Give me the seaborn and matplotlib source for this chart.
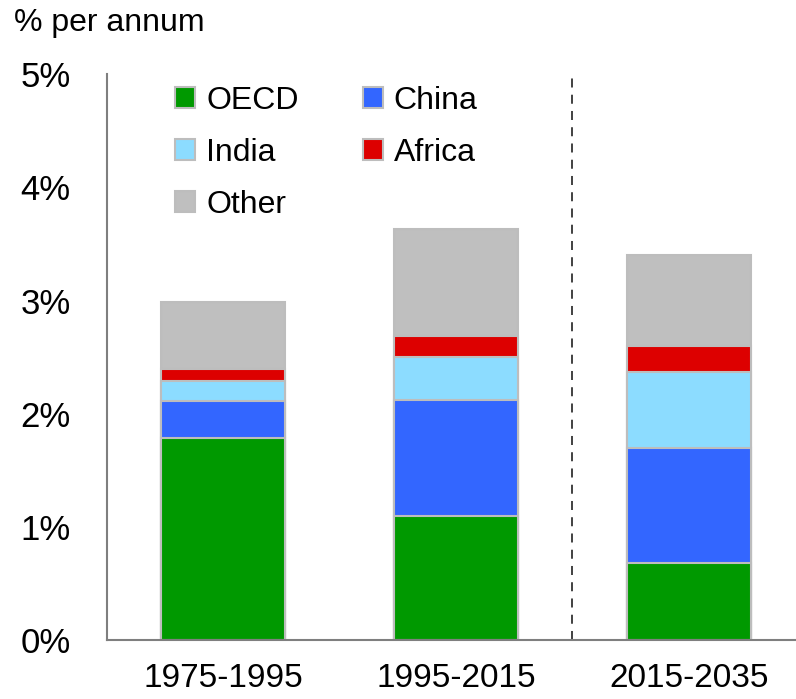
import matplotlib
matplotlib.use("Agg")
import matplotlib.pyplot as plt
import matplotlib.patches as mpatches
import seaborn as sns
import pandas as pd
import numpy as np

periods = ["1975-1995", "1995-2015", "2015-2035"]
regions = ["OECD", "China", "India", "Africa", "Other"]
oecd = [1.79, 1.10, 0.68]
china = [0.32, 1.02, 1.02]
india = [0.18, 0.38, 0.67]
africa = [0.11, 0.19, 0.23]
other = [0.59, 0.94, 0.80]
colors = {"OECD": "#009900", "China": "#3366FF", "India": "#8CDCFF",
          "Africa": "#DD0000", "Other": "#BFBFBF"}

sns.set_theme(style="white")
fam = ["Liberation Sans Narrow", "Liberation Sans", "DejaVu Sans"]
plt.rcParams["font.family"] = fam
plt.rcParams["text.color"] = "black"
plt.rcParams["xtick.color"] = "black"
plt.rcParams["ytick.color"] = "black"

fig = plt.figure(figsize=(7.96, 6.99), dpi=100)
ax = fig.add_axes([0.134, 0.084, 0.866, 0.81])

vals = {"OECD": oecd, "China": china, "India": india, "Africa": africa, "Other": other}
cum = np.zeros(3)
cums = {}
for r in regions:
    cum = cum + np.array(vals[r])
    cums[r] = cum.copy()

for r in reversed(regions):
    df = pd.DataFrame({"period": periods, "value": cums[r]})
    sns.barplot(data=df, x="period", y="value", order=periods, color=colors[r],
                saturation=1, width=0.53, edgecolor="#BDBDBD", linewidth=1.5, ax=ax)

ax.axvline(1.5, color="#333333", linestyle=(0, (5, 4)), linewidth=1.3)
ax.set_xlim(-0.5, 2.46)
ax.set_ylim(0, 5)
ax.set_yticks([0, 1, 2, 3, 4, 5])
ax.set_yticklabels([f"{i}%" for i in range(6)])
ax.set_xlabel("")
ax.set_ylabel("")
for s in ["top", "right"]:
    ax.spines[s].set_visible(False)
for s in ["left", "bottom"]:
    ax.spines[s].set_color("#7F7F7F")
    ax.spines[s].set_linewidth(1.5)
ax.tick_params(axis="y", direction="in", length=10, width=1.5, color="#7F7F7F",
               labelcolor="black", labelsize=25, pad=26)
ax.tick_params(axis="x", length=0, labelsize=24, labelcolor="black", pad=16)

order = ["OECD", "India", "Other", "China", "Africa"]
handles = [mpatches.Patch(facecolor=colors[r], edgecolor="#BDBDBD", linewidth=1.5, label=r) for r in order]
ax.legend(handles=handles, ncol=2, loc="upper left", bbox_to_anchor=(0.058, 1.03),
          frameon=False, fontsize=23, handlelength=0.62, handleheight=0.62,
          handletextpad=0.35, columnspacing=2.0, labelspacing=0.69,
          labelcolor="black")

fig.text(0.018, 0.945, "% per annum", fontsize=23, ha="left", va="bottom", color="black")

fig.savefig("out.png", dpi=100)
